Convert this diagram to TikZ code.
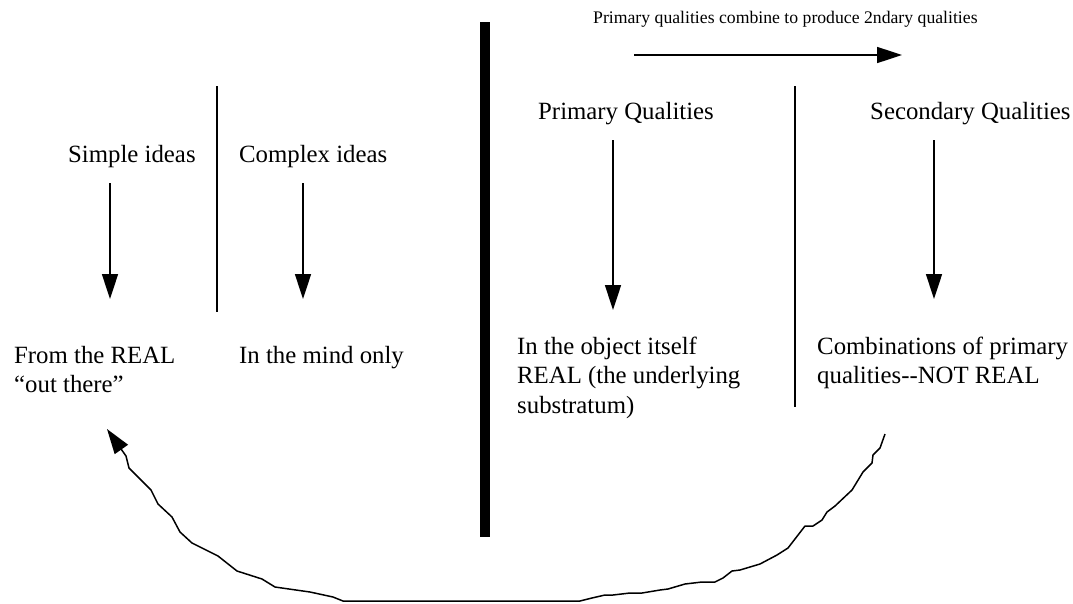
\documentclass[tikz,border=0pt]{standalone}
\usepackage{fontspec}
\setmainfont{Liberation Serif}
\usetikzlibrary{arrows.meta}

\newcommand{\bodysize}{\fontsize{24.8pt}{29.5pt}\selectfont}
\newcommand{\notesize}{\fontsize{17.7pt}{20pt}\selectfont}

% multi-line nodes are placed by the baseline of their last line
\tikzset{
  txt/.style={font=\bodysize, inner sep=0pt, anchor=base west, align=left},
  note/.style={font=\notesize, inner sep=0pt, anchor=base west},
  divider/.style={line width=1.8pt},
  bigdivider/.style={line width=10pt},
  pointer/.style={line width=1.6pt, -{Triangle[length=25pt,width=16pt]}},
  wander/.style={line width=1.5pt, line join=round, -{Triangle[length=25pt,width=16pt]}}
}

\begin{document}
\begin{tikzpicture}[x=1pt,y=-1pt]
  \useasboundingbox (0,0) rectangle (1073,603);

  % separators
  \coordinate (lsep-top) at (217,86);
  \coordinate (lsep-bot) at (217,312);
  \coordinate (mid-top) at (485,22);
  \coordinate (mid-bot) at (485,537);
  \coordinate (rsep-top) at (795,86);
  \coordinate (rsep-bot) at (795,407);
  \draw[divider] (lsep-top) -- (lsep-bot);
  \draw[bigdivider] (mid-top) -- (mid-bot);
  \draw[divider] (rsep-top) -- (rsep-bot);

  % headings
  \node[txt] (simple) at (68,162) {Simple ideas};
  \node[txt] (complex) at (239,162) {Complex ideas};
  \node[txt] (primary) at (538,119) {Primary Qualities};
  \node[txt] (secondary) at (870,119) {Secondary Qualities};

  % results
  \node[txt] (fromreal) at (14,392.5) {From the REAL\\“out there”};
  \node[txt] (mindonly) at (239,363) {In the mind only};
  \node[txt] (object) at (517,413) {In the object itself\\REAL (the underlying\\substratum)};
  \node[txt] (combos) at (817,383.5) {Combinations of primary\\qualities{-}{-}NOT REAL};

  % note over the right half
  \node[note] (combine) at (593,23) {Primary qualities combine to produce 2ndary qualities};
  \coordinate (combine-from) at (634,55);
  \coordinate (combine-to) at (902,55);
  \draw[pointer] (combine-from) -- (combine-to);

  % downward arrows
  \coordinate (simple-a) at (110,183);   \coordinate (simple-b) at (110,299);
  \coordinate (complex-a) at (303,183);  \coordinate (complex-b) at (303,299);
  \coordinate (primary-a) at (613,140);  \coordinate (primary-b) at (613,310);
  \coordinate (secondary-a) at (934,140);\coordinate (secondary-b) at (934,299);
  \draw[pointer] (simple-a) -- (simple-b);
  \draw[pointer] (complex-a) -- (complex-b);
  \draw[pointer] (primary-a) -- (primary-b);
  \draw[pointer] (secondary-a) -- (secondary-b);

  % hand-drawn return arc from the secondary side back to the simple ideas
  \coordinate (arc-start) at (885,434);
  \coordinate (arc-end) at (107,429);
  \draw[wander] (arc-start) -- (880,448) -- (873,455) -- (872,463) -- (863,472)
    -- (852,490) -- (835,506) -- (827,512) -- (822,520) -- (813,526) -- (805,526)
    -- (788,548) -- (777,555) -- (760,564) -- (750,567) -- (740,570) -- (732,571)
    -- (723,578) -- (715,582) -- (702,582) -- (685,584) -- (668,589) -- (660,590)
    -- (642,593) -- (630,593) -- (613,595) -- (605,595) -- (592,598) -- (580,601)
    -- (343,601) -- (333,597) -- (310,592) -- (275,587) -- (262,579) -- (237,571)
    -- (218,556) -- (192,543) -- (180,532) -- (172,517) -- (158,504) -- (151,490)
    -- (129,468) -- (126,456) -- (arc-end);
\end{tikzpicture}
\end{document}
